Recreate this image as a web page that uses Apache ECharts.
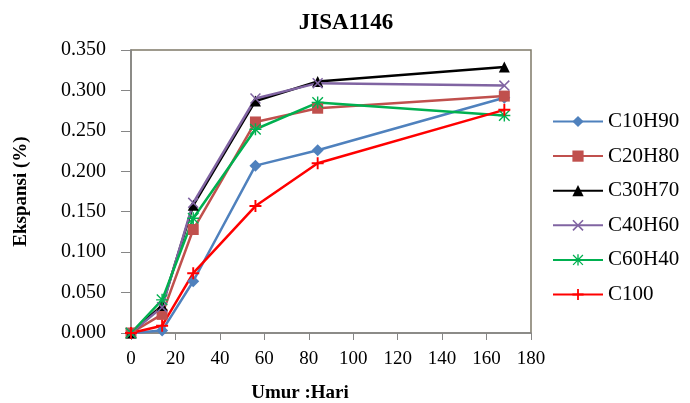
<!DOCTYPE html>
<html>
<head>
<meta charset="utf-8">
<script src="https://cdn.jsdelivr.net/npm/echarts@6/dist/echarts.min.js"></script>
<style>
  html, body { margin: 0; padding: 0; background: #fff; }
  #chart { width: 690px; height: 403px; }
</style>
</head>
<body>
<div id="chart"></div>
<script>
const days = [0, 14, 28, 56, 84, 168];
const c10h90 = [0, 0.003, 0.064, 0.207, 0.226, 0.291];
const c20h80 = [0, 0.023, 0.128, 0.261, 0.278, 0.293];
const c30h70 = [0, 0.034, 0.158, 0.287, 0.311, 0.329];
const c40h60 = [0, 0.032, 0.161, 0.290, 0.309, 0.306];
const c60h40 = [0, 0.041, 0.142, 0.252, 0.285, 0.269];
const c100   = [0, 0.009, 0.074, 0.157, 0.210, 0.276];

const serif = '"Liberation Serif", "DejaVu Serif", serif';

// symbol shapes drawn as filled outlines
const crossX = 'path://M1,0L5,4L9,0L10,1L6,5L10,9L9,10L5,6L1,10L0,9L4,5L0,1Z';
const plus = 'path://M4.2,0H5.8V4.2H10V5.8H5.8V10H4.2V5.8H0V4.2H4.2Z';
const star = 'path://M4.4,0H5.6V10H4.4Z M0,4.4H10V5.6H0Z M1,0.2L9.8,9L9,9.8L0.2,1Z M9,0.2L9.8,1L1,9.8L0.2,9Z';

function pairs(vals) {
  return days.map((d, i) => [d, vals[i]]);
}

function line(name, vals, color, symbol, size) {
  return {
    name: name,
    type: 'line',
    data: pairs(vals),
    symbol: symbol,
    symbolSize: size,
    showAllSymbol: true,
    lineStyle: { color: color, width: 2.5 },
    itemStyle: { color: color },
    emphasis: { disabled: true },
    z: 2
  };
}

const chart = echarts.init(document.getElementById('chart'));
chart.setOption({
  animation: false,
  backgroundColor: '#fff',
  title: {
    text: 'JISA1146',
    top: 7,
    left: 341,
    textAlign: 'center',
    textStyle: { fontFamily: serif, fontSize: 23, fontWeight: 'bold', color: '#000' }
  },
  legend: {
    orient: 'vertical',
    left: 547,
    top: 106,
    itemWidth: 50,
    itemHeight: 14,
    itemGap: 13.6,
    textStyle: { fontFamily: serif, fontSize: 21, color: '#000' },
    data: ['C10H90', 'C20H80', 'C30H70', 'C40H60', 'C60H40', 'C100']
  },
  grid: {
    left: 131, right: 159, top: 50, bottom: 70,
    outerBoundsMode: 'none',
    containLabel: false,
    show: true, borderColor: '#7f7a68', borderWidth: 1.5
  },
  xAxis: {
    type: 'value',
    min: 0, max: 180, interval: 20,
    name: 'Umur :Hari',
    nameLocation: 'middle',
    nameGap: 51,
    nameTextStyle: {
      fontFamily: serif, fontSize: 19, fontWeight: 'bold', color: '#000',
      padding: [0, 62, 0, 0]
    },
    axisLine: { onZero: false, lineStyle: { color: '#868686', width: 1.5 } },
    axisTick: { show: true, length: 7, lineStyle: { color: '#868686' } },
    axisLabel: { fontFamily: serif, fontSize: 19, color: '#000', margin: 17 },
    splitLine: { show: false }
  },
  yAxis: {
    type: 'value',
    min: 0, max: 0.35, interval: 0.05,
    name: 'Ekspansi (%)',
    nameLocation: 'middle',
    nameRotate: 90,
    nameGap: 100,
    nameTextStyle: { fontFamily: serif, fontSize: 19, fontWeight: 'bold', color: '#000' },
    axisLine: { show: true, lineStyle: { color: '#868686', width: 1.5 } },
    axisTick: { show: true, length: 10, lineStyle: { color: '#868686' } },
    axisLabel: {
      fontFamily: serif, fontSize: 20, color: '#000', margin: 25,
      formatter: v => v.toFixed(3)
    },
    splitLine: { show: false }
  },
  series: [
    line('C10H90', c10h90, '#4f81bd', 'diamond', 12),
    line('C20H80', c20h80, '#c0504d', 'rect', 11),
    line('C30H70', c30h70, '#000000', 'triangle', 11),
    line('C40H60', c40h60, '#8064a2', crossX, 11),
    line('C60H40', c60h40, '#00b050', star, 12),
    line('C100', c100, '#ff0000', plus, 12)
  ]
});
</script>
</body>
</html>
